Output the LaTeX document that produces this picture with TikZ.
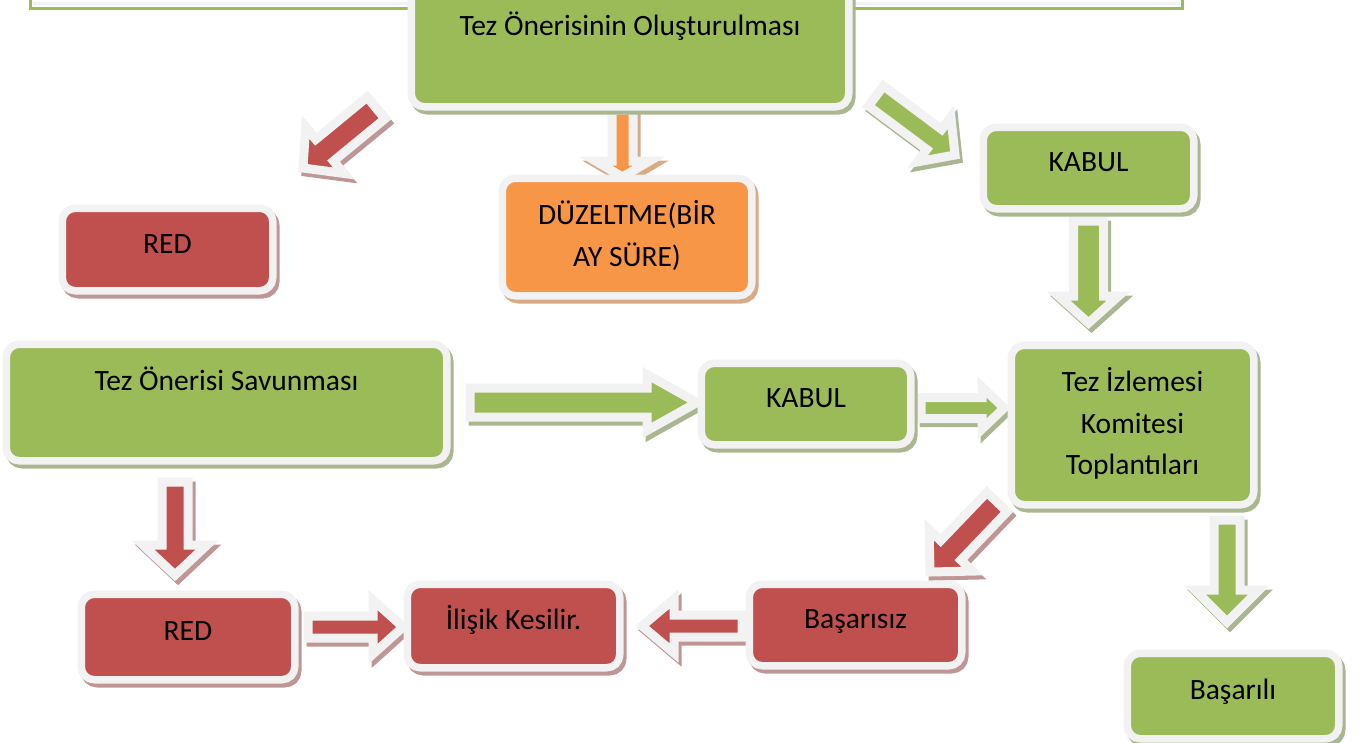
\documentclass[tikz,border=0pt]{standalone}
\usepackage{fontspec}
\setmainfont{Carlito}
\usetikzlibrary{calc}
\definecolor{grn}{HTML}{9BBB59}
\definecolor{grnsh}{HTML}{A9B68F}
\definecolor{rd}{HTML}{C0504D}
\definecolor{rdsh}{HTML}{BF9696}
\definecolor{org}{HTML}{F79646}
\definecolor{orgsh}{HTML}{D9AA86}
\definecolor{bord}{HTML}{F2F2F2}
\newcommand{\up}{\rule[-21.5pt]{0pt}{50.5pt}}
\newcommand{\blockarrow}[6]{%
  \coordinate (bh) at ($(#2)!#5pt!(#1)$);
  \def\bapath{($(#1)!#3pt!90:(#2)$) -- ($(bh)!#3pt!90:(#2)$) -- ($(bh)!#4pt!90:(#2)$) -- (#2) -- ($(bh)!#4pt!-90:(#2)$) -- ($(bh)!#3pt!-90:(#2)$) -- ($(#1)!#3pt!-90:(#2)$) -- cycle}%
  \begin{scope}[transform canvas={shift={(3pt,-4pt)}}]
    \path[fill=#6sh, draw=#6sh, line width=9pt] \bapath;
  \end{scope}
  \path[fill=#6, draw=bord, line width=9pt] \bapath;
}
\tikzset{
  box/.style={draw=bord, line width=7.5pt, rounded corners=13pt, inner sep=0pt,
    align=center, font=\fontsize{29.5}{41.5}\selectfont, text=black, fill=#1,
    preaction={fill=#1sh, draw=#1sh, transform canvas={shift={(3pt,-4pt)}}}},
}
\begin{document}
\begin{tikzpicture}[x=1pt,y=-1pt]
\useasboundingbox (0,0) rectangle (1365,742);
% top frame
\draw[bord, line width=3pt] (33,3) -- (1180,3);
\draw[grn, line width=3pt] (30.5,-20) -- (30.5,8) -- (1182.5,8) -- (1182.5,-20);

% arrow end points
\coordinate (a1s) at (376,108);   \coordinate (a1e) at (303,168);
\coordinate (a2s) at (622.5,110); \coordinate (a2e) at (622.5,177);
\coordinate (a3s) at (876,96);    \coordinate (a3e) at (955,155);
\coordinate (a4s) at (1088.5,221);\coordinate (a4e) at (1088.5,323);
\coordinate (a5s) at (470,402.5); \coordinate (a5e) at (697,402.5);
\coordinate (a6s) at (921,408);   \coordinate (a6e) at (1004,408);
\coordinate (a7s) at (175,482);   \coordinate (a7e) at (175,575);
\coordinate (a8s) at (308,627);   \coordinate (a8e) at (403,627);
\coordinate (a9s) at (742,626);   \coordinate (a9e) at (642,626);
\coordinate (a10s) at (997,502);  \coordinate (a10e) at (930,572);
\coordinate (a11s) at (1227,520); \coordinate (a11e) at (1227,622);

\blockarrow{a1s}{a1e}{14}{30}{28}{rd}
\blockarrow{a2s}{a2e}{10.5}{27}{16}{org}
\blockarrow{a3s}{a3e}{12.5}{28}{26}{grn}
\blockarrow{a4s}{a4e}{15}{30}{27}{grn}
\blockarrow{a5s}{a5e}{14.5}{28}{50}{grn}
\blockarrow{a6s}{a6e}{10.5}{21}{22}{grn}
\blockarrow{a7s}{a7e}{13}{32}{30}{rd}
\blockarrow{a8s}{a8e}{11}{27}{30}{rd}
\blockarrow{a9s}{a9e}{11}{27}{32}{rd}
\blockarrow{a10s}{a10e}{14}{30}{30}{rd}
\blockarrow{a11s}{a11e}{13}{32}{32}{grn}

% boxes
\node[box=grn, minimum width=437.5pt, minimum height=158.5pt] (olus) at (630,27.5) {\strut Tez Önerisinin Oluşturulması};
\node[box=rd, minimum width=210.5pt, minimum height=82.5pt] (red1) at (167.5,249.5) {\up RED};
\node[box=org, minimum width=249.5pt, minimum height=117.5pt] (duz) at (627,237) {\strut DÜZELTME(BİR\\\strut AY SÜRE)};
\node[box=grn, minimum width=210.5pt, minimum height=81.5pt] (kabul1) at (1088.5,168) {\up KABUL};
\node[box=grn, minimum width=440.5pt, minimum height=116.5pt] (sav) at (226.5,402.5) {\strut Tez Önerisi Savunması\\\strut};
\node[box=grn, minimum width=209.5pt, minimum height=81.5pt] (kabul2) at (806,404) {\up KABUL};
\node[box=grn, minimum width=242.5pt, minimum height=159.5pt] (tik) at (1132.5,425) {\strut Tez İzlemesi\\\strut Komitesi\\\strut Toplantıları};
\node[box=rd, minimum width=213.5pt, minimum height=85.5pt] (red2) at (188,637) {\up RED};
\node[box=rd, minimum width=212.5pt, minimum height=83.5pt] (ilisik) at (513.5,626) {\up İlişik Kesilir.};
\node[box=rd, minimum width=212.5pt, minimum height=81.5pt] (bsz) at (855.5,625) {\up Başarısız};
\node[box=grn, minimum width=211.5pt, minimum height=85.5pt] (bsl) at (1233,696) {\up Başarılı};
\end{tikzpicture}
\end{document}
